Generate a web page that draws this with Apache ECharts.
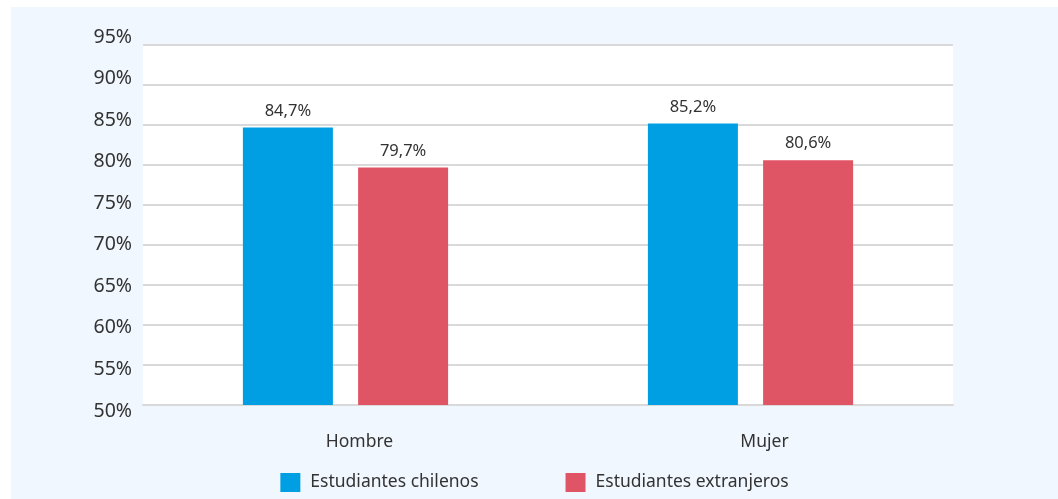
<!DOCTYPE html>
<html>
<head>
<meta charset="utf-8">
<script src="https://cdn.jsdelivr.net/npm/echarts@6/dist/echarts.min.js"></script>
<style>
html,body{margin:0;padding:0;background:#ffffff;width:1058px;height:499px;overflow:hidden;}
#chart{position:absolute;left:11px;top:7px;width:1047px;height:492px;background:#f0f7fe;}
</style>
</head>
<body>
<div id="chart"></div>
<script>
var categories = ['Hombre', 'Mujer'];
var seriesNames = ['Estudiantes chilenos', 'Estudiantes extranjeros'];
var chilenos = [84.7, 85.2];
var extranjeros = [79.7, 80.6];
var yMin = 50, yMax = 95, yStep = 5;

var font = '"Noto Sans", Lato, sans-serif';
var textColor = '#333333';
function fmt(v){ return String(v).replace('.', ',') + '%'; }

var chart = echarts.init(document.getElementById('chart'));
chart.setOption({
  animation: false,
  textStyle: { fontFamily: font },
  legend: {
    bottom: 2,
    left: 'center',
    itemWidth: 20,
    itemHeight: 19,
    itemGap: 87,
    icon: 'rect',
    textStyle: { fontSize: 17.5, color: textColor, fontFamily: font, padding: [0, 0, 0, 5] },
    data: seriesNames
  },
  grid: [
    { left: 132, right: 105, top: 38, bottom: 94, show: true, backgroundColor: '#ffffff', borderWidth: 0 },
    { left: 132, right: 105, top: 30, bottom: 88, show: false }
  ],
  xAxis: [
    {
      gridIndex: 0, type: 'category', data: categories,
      axisLine: { show: true, lineStyle: { color: '#d9d9d9', width: 2 } },
      axisTick: { show: false },
      axisLabel: { margin: 28, fontSize: 17.5, color: textColor, fontFamily: font, padding: [0, 0, 0, 28] }
    },
    { gridIndex: 1, type: 'category', data: categories, show: false }
  ],
  yAxis: [
    {
      gridIndex: 0, type: 'value', min: yMin, max: yMax, interval: yStep,
      axisLine: { show: false }, axisTick: { show: false },
      axisLabel: { show: false },
      splitLine: { lineStyle: { color: '#d9d9d9', width: 2 } }
    },
    {
      gridIndex: 1, type: 'value', min: yMin, max: yMax, interval: yStep,
      axisLine: { show: false }, axisTick: { show: false },
      splitLine: { show: false },
      axisLabel: { margin: 11, fontSize: 19.5, color: textColor, fontFamily: font, formatter: function(v){ return v + '%'; } }
    }
  ],
  series: [
    {
      name: seriesNames[0], type: 'bar', xAxisIndex: 0, yAxisIndex: 0,
      data: chilenos, barWidth: 90, barGap: '28%',
      itemStyle: { color: '#009fe3' },
      label: { show: true, position: 'top', distance: 8, fontSize: 16.5, color: textColor, fontFamily: font,
               formatter: function(p){ return fmt(p.value); } }
    },
    {
      name: seriesNames[1], type: 'bar', xAxisIndex: 0, yAxisIndex: 0,
      data: extranjeros, barWidth: 90, barGap: '28%',
      itemStyle: { color: '#e05565' },
      label: { show: true, position: 'top', distance: 8, fontSize: 16.5, color: textColor, fontFamily: font,
               formatter: function(p){ return fmt(p.value); } }
    }
  ]
});
</script>
</body>
</html>
